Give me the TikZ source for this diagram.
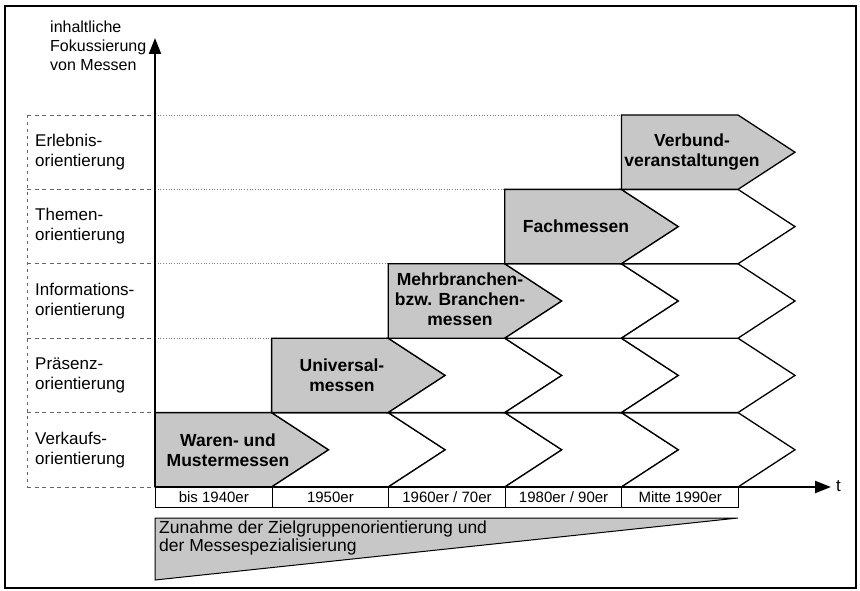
\documentclass[tikz,border=0pt]{standalone}
\usepackage{fontspec}
\setmainfont{Liberation Sans}
\usetikzlibrary{arrows.meta}
\definecolor{stagefill}{gray}{0.78}
\begin{document}
\begin{tikzpicture}[x=1pt,y=-1pt,
  rowlabel/.style={anchor=west,align=left,inner sep=0pt,font=\fontsize{17}{20}\selectfont},
  stagetext/.style={align=center,inner sep=0pt,font=\fontsize{17.5}{20}\selectfont\bfseries},
  stagearrow/.style={fill=stagefill,draw=black,line width=1.3pt,line join=miter},
  chevron/.style={fill=white,draw=black,line width=1.3pt,line join=miter},
  yearbox/.style={draw=black,line width=1pt,minimum width=116.6pt,minimum height=20pt,
    inner sep=0pt,anchor=north west,font=\fontsize{15}{17}\selectfont},
  gridline/.style={dash pattern=on 4pt off 3.5pt,line width=0.9pt,draw=black!60},
  guideline/.style={dotted,line width=0.7pt,draw=black!50},
  axis/.style={line width=2.2pt,-{Triangle[length=16pt,width=12pt]}}
]
\useasboundingbox (0,0) rectangle (860,591);

% outer frame
\draw[line width=1.6pt] (5,6) rectangle (856,588);

% left category boxes (dashed) and dotted guides
\foreach \j in {0,...,5}{
  \pgfmathsetmacro{\yy}{487-74.4*\j}
  \draw[gridline] (27,\yy) -- (155,\yy);
}
\draw[dash pattern=on 3pt off 4pt,line width=0.6pt,draw=black!60] (27,115) -- (27,487);
\foreach \k in {1,...,4}{
  \pgfmathsetmacro{\yy}{487-74.4*(\k+1)}
  \pgfmathsetmacro{\xx}{155+116.6*\k}
  \draw[guideline] (155,\yy) -- (\xx,\yy);
}

% stages: grey arrow in its own column, white chevrons to the right
\foreach \k in {0,...,4}{
  \pgfmathsetmacro{\yt}{487-74.4*(\k+1)}
  \pgfmathsetmacro{\yb}{487-74.4*\k}
  \pgfmathsetmacro{\ym}{487-74.4*(\k+0.5)}
  \pgfmathsetmacro{\xa}{155+116.6*\k}
  \pgfmathsetmacro{\xb}{155+116.6*(\k+1)}
  \pgfmathsetmacro{\xt}{\xb+57}
  \draw[stagearrow] (\xa,\yt) -- (\xb,\yt) -- (\xt,\ym) -- (\xb,\yb) -- (\xa,\yb) -- cycle;
  \ifnum\k<4
    \foreach \c in {\k,...,3}{
      \pgfmathsetmacro{\ca}{155+116.6*(\c+1)}
      \pgfmathsetmacro{\cb}{155+116.6*(\c+2)}
      \draw[chevron] (\ca,\yt) -- (\cb,\yt) -- ({\cb+57},\ym) -- (\cb,\yb) -- (\ca,\yb) -- ({\ca+57},\ym) -- cycle;
    }
  \fi
}

% stage labels
\node[stagetext] (s0) at (228,450) {Waren- und\\Mustermessen};
\node[stagetext] (s1) at (342,375.4) {Universal-\\messen};
\node[stagetext] (s2) at (460,299) {Mehrbranchen-\\bzw. Branchen-\\messen};
\node[stagetext] (s3) at (576,226.6) {Fachmessen};
\node[stagetext] (s4) at (692,152) {Verbund-\\veranstaltungen};

% row labels
\node[rowlabel] (r4) at (35,152.2) {Erlebnis-\\orientierung};
\node[rowlabel] (r3) at (35,226.6) {Themen-\\orientierung};
\node[rowlabel] (r2) at (35,301) {Informations-\\orientierung};
\node[rowlabel] (r1) at (35,375.4) {Präsenz-\\orientierung};
\node[rowlabel] (r0) at (35,449.8) {Verkaufs-\\orientierung};

% time periods
\node[yearbox] (p0) at (155,487) {bis 1940er};
\node[yearbox] (p1) at (271.6,487) {1950er};
\node[yearbox] (p2) at (388.2,487) {1960er / 70er};
\node[yearbox] (p3) at (504.8,487) {1980er / 90er};
\node[yearbox] (p4) at (621.4,487) {Mitte 1990er};

% axes
\coordinate (origin) at (155,487);
\coordinate (ytop) at (155,38);
\coordinate (xend) at (831,487);
\draw[axis] (origin) -- (ytop);
\draw[axis] (origin) -- (xend);
\node[anchor=west,inner sep=0pt,font=\fontsize{17}{20}\selectfont] (t) at (836,486) {t};
\node[anchor=west,align=left,inner sep=0pt,font=\fontsize{16}{19}\selectfont] (ylabel) at (50,46) {inhaltliche\\Fokussierung\\von Messen};

% increasing specialisation wedge
\draw[fill=stagefill,line width=1pt,line join=miter] (155,518) -- (738,518) -- (155,580) -- cycle;
\node[anchor=north west,align=left,inner sep=0pt,font=\fontsize{17.5}{18}\selectfont] (wedge) at (159,521)
  {Zunahme der Zielgruppenorientierung und\\der Messespezialisierung};
\end{tikzpicture}
\end{document}
